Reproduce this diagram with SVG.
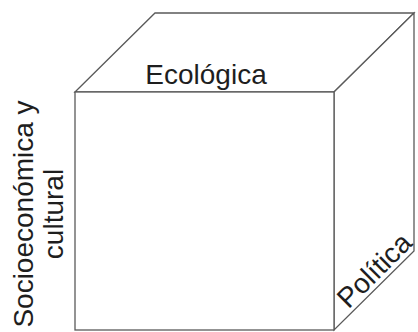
<svg xmlns="http://www.w3.org/2000/svg" width="418" height="332" viewBox="0 0 418 332">
  <style>
    .face { fill: #ffffff; stroke: #5a5a5a; stroke-width: 1.3; }
    .lbl { font-family: "Liberation Sans", Arial, sans-serif; font-size: 28px; fill: #1e1e1e; }
  </style>
  <rect width="418" height="332" fill="#ffffff"/>

  <!-- cube -->
  <g id="cube">
    <!-- top face -->
    <polygon class="face" points="75,92 155,13 414,13 334,92"/>
    <!-- right side face -->
    <polygon class="face" points="334,92 414,13 414,251 334,330"/>
    <!-- front face -->
    <rect class="face" x="75" y="92" width="259" height="238"/>
  </g>

  <!-- axis labels -->
  <g id="label-ecologica">
    <text class="lbl" x="206" y="84" text-anchor="middle">Ecológica</text>
  </g>
  <g id="label-socio">
    <text class="lbl" transform="translate(33,214) rotate(-90)" text-anchor="middle">Socioeconómica y</text>
    <text class="lbl" transform="translate(63,214) rotate(-90)" text-anchor="middle">cultural</text>
  </g>
  <g id="label-politica">
    <text class="lbl" transform="translate(381,277) rotate(-45)" text-anchor="middle" font-size="25">Política</text>
  </g>
</svg>
